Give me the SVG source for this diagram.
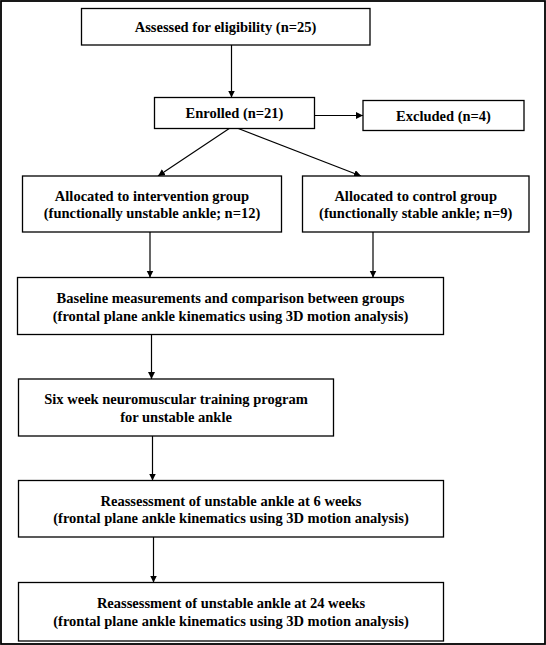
<svg xmlns="http://www.w3.org/2000/svg" width="546" height="645" viewBox="0 0 546 645">
<defs>
<marker id="ah" markerWidth="8" markerHeight="8" refX="7" refY="3.5" orient="auto" markerUnits="userSpaceOnUse">
<path d="M0,0 L7,3.5 L0,7 Z" fill="#000"/>
</marker>
<style>
.box{fill:#fff;stroke:#000;stroke-width:1.3}
.t{font-family:"Liberation Serif","Times New Roman",serif;font-weight:bold;font-size:14.5px;fill:#000;text-anchor:middle}
.c{stroke:#000;stroke-width:1.2;fill:none;marker-end:url(#ah)}
</style>
</defs>
<rect x="0" y="0" width="546" height="645" fill="#fff"/>
<rect x="1" y="1" width="544" height="643" fill="none" stroke="#000" stroke-width="1.8"/>
<g id="connectors">
<line class="c" x1="231.5" y1="45" x2="231.5" y2="97.5"/>
<line class="c" x1="314.5" y1="115.5" x2="363" y2="115.5"/>
<line class="c" x1="230" y1="128" x2="158" y2="176"/>
<line class="c" x1="237" y1="128" x2="361" y2="176"/>
<line class="c" x1="150" y1="232" x2="150" y2="277.5"/>
<line class="c" x1="373" y1="232" x2="373" y2="277.5"/>
<line class="c" x1="151.5" y1="334.5" x2="151.5" y2="379"/>
<line class="c" x1="152.5" y1="436" x2="152.5" y2="480.5"/>
<line class="c" x1="153.5" y1="537" x2="153.5" y2="582.5"/>
</g>
<g id="assessed">
<rect class="box" x="81.5" y="8.5" width="288.5" height="36.5"/>
<text class="t" x="225.5" y="31.5">Assessed for eligibility (n=25)</text>
</g>
<g id="enrolled">
<rect class="box" x="154.5" y="97.5" width="160" height="31"/>
<text class="t" x="234.5" y="117.5">Enrolled (n=21)</text>
</g>
<g id="excluded">
<rect class="box" x="363" y="100.5" width="161" height="30"/>
<text class="t" x="443.5" y="120.5">Excluded (n=4)</text>
</g>
<g id="intervention">
<rect class="box" x="22.5" y="176" width="259" height="56"/>
<text class="t" x="152" y="201">Allocated to intervention group</text>
<text class="t" x="152" y="218">(functionally unstable ankle; n=12)</text>
</g>
<g id="control">
<rect class="box" x="302.5" y="176" width="226.5" height="56"/>
<text class="t" x="415.7" y="201">Allocated to control group</text>
<text class="t" x="415.7" y="218">(functionally stable ankle; n=9)</text>
</g>
<g id="baseline">
<rect class="box" x="17.5" y="277.5" width="426" height="57"/>
<text class="t" x="230.5" y="303">Baseline measurements and comparison between groups</text>
<text class="t" x="230.5" y="320.5">(frontal plane ankle kinematics using 3D motion analysis)</text>
</g>
<g id="training">
<rect class="box" x="18.5" y="379" width="315" height="57"/>
<text class="t" x="176" y="404">Six week neuromuscular training program</text>
<text class="t" x="176" y="421.5">for unstable ankle</text>
</g>
<g id="reassess6">
<rect class="box" x="18.5" y="480.5" width="425" height="56.5"/>
<text class="t" x="231" y="505.5">Reassessment of unstable ankle at 6 weeks</text>
<text class="t" x="231" y="523">(frontal plane ankle kinematics using 3D motion analysis)</text>
</g>
<g id="reassess24">
<rect class="box" x="18.5" y="582.5" width="425" height="58.5"/>
<text class="t" x="231" y="608">Reassessment of unstable ankle at 24 weeks</text>
<text class="t" x="231" y="625.5">(frontal plane ankle kinematics using 3D motion analysis)</text>
</g>
</svg>
